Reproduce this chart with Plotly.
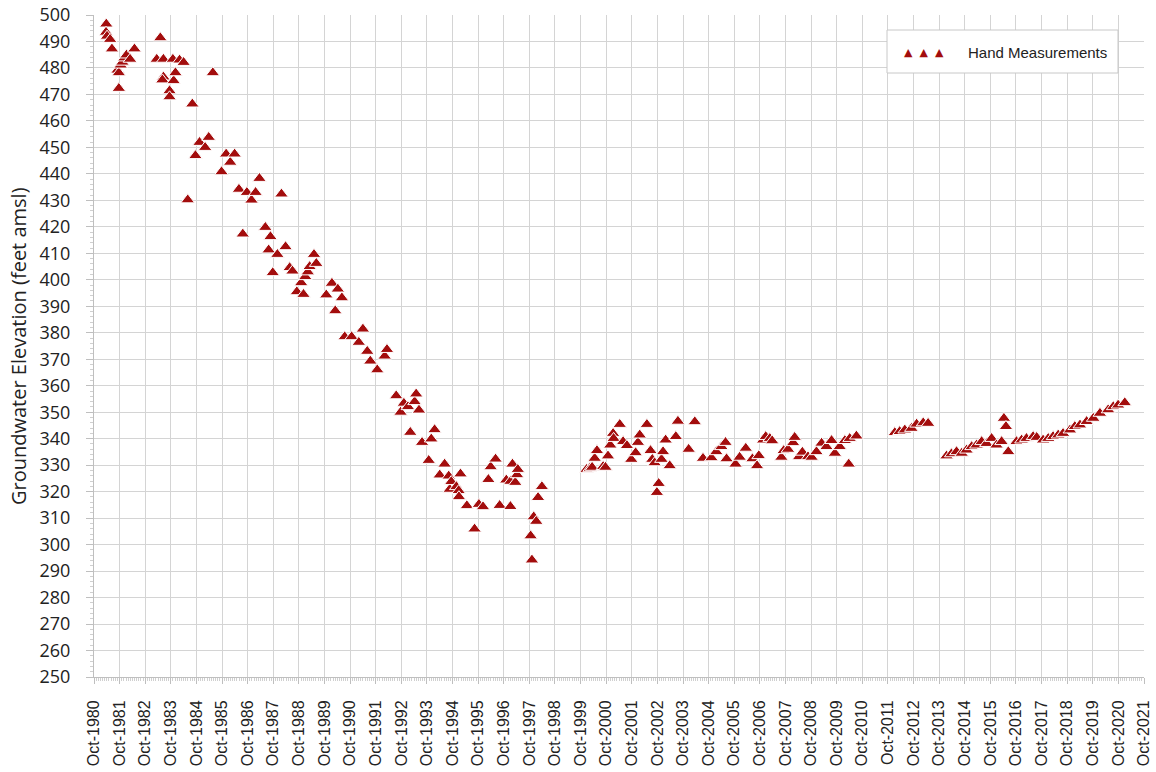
import plotly.graph_objects as go

# Measurement dates (decimal years) and groundwater elevations (feet amsl)
meas_year = [
    1981.23, 1981.22, 1981.26, 1981.38, 1981.45, 1981.67, 1981.72, 1981.72, 1981.79, 1981.86,
    1981.94, 1982.02, 1982.16, 1982.33, 1983.20, 1983.34, 1983.46, 1983.46, 1983.42, 1983.70,
    1983.70, 1983.83, 1983.86, 1983.93, 1984.09, 1984.25, 1984.41, 1984.59, 1984.71, 1984.87,
    1985.09, 1985.23, 1985.39, 1985.73, 1985.91, 1986.07, 1986.24, 1986.41, 1986.56, 1986.72,
    1986.90, 1987.06, 1987.21, 1987.44, 1987.57, 1987.64, 1987.73, 1987.91, 1988.07, 1988.23,
    1988.39, 1988.50, 1988.67, 1988.84, 1988.93, 1989.00, 1989.10, 1989.17, 1989.34, 1989.43,
    1989.82, 1990.04, 1990.17, 1990.27, 1990.43, 1990.54, 1990.81, 1991.09, 1991.25, 1991.42,
    1991.54, 1991.81, 1992.10, 1992.19, 1992.55, 1992.72, 1992.85, 1993.01, 1993.10, 1993.27,
    1993.33, 1993.44, 1993.56, 1993.82, 1993.92, 1994.05, 1994.25, 1994.44, 1994.60, 1994.64,
    1994.70, 1994.90, 1994.99, 1995.00, 1995.06, 1995.31, 1995.61, 1995.78, 1995.94, 1996.15,
    1996.24, 1996.43, 1996.59, 1996.85, 1997.01, 1997.01, 1997.09, 1997.20, 1997.27, 1997.30,
    1997.80, 1997.85, 1997.92, 1998.02, 1998.09, 1998.24,
    1999.98, 2000.11, 2000.20, 2000.30, 2000.39, 2000.63, 2000.72, 2000.82, 2000.91, 2001.02,
    2001.04, 2001.28, 2001.41, 2001.56, 2001.73, 2001.90, 2001.99, 2002.06, 2002.34, 2002.48,
    2002.55, 2002.64, 2002.73, 2002.80, 2002.91, 2002.97, 2003.07, 2003.23, 2003.47, 2003.55,
    2003.97, 2004.21, 2004.53, 2004.86, 2005.05, 2005.25, 2005.41, 2005.45, 2005.80, 2005.96,
    2006.20, 2006.46, 2006.64, 2006.71, 2006.88, 2006.98, 2007.14, 2007.23, 2007.59, 2007.68,
    2007.85, 2008.05, 2008.11, 2008.28, 2008.41, 2008.63, 2008.77, 2008.96, 2009.16, 2009.35,
    2009.55, 2009.68, 2009.87, 2010.07, 2010.22, 2010.26, 2010.52,
    2012.02, 2012.21, 2012.41, 2012.67, 2012.87, 2013.13, 2013.32,
    2014.04, 2014.23, 2014.43, 2014.63, 2014.82, 2015.02, 2015.21, 2015.41, 2015.60, 2015.80,
    2015.99, 2016.19, 2016.28, 2016.36, 2016.45, 2016.77, 2016.97, 2017.16, 2017.42, 2017.56,
    2017.81, 2018.01, 2018.20, 2018.40, 2018.59, 2018.86, 2019.05, 2019.25, 2019.51, 2019.77,
    2020.03, 2020.35, 2020.55, 2020.74, 2021.00,
]
elevation_ft = [
    496.6, 493.5, 492.0, 490.8, 487.2, 479.2, 478.2, 472.3, 481.1, 482.2,
    483.8, 484.9, 483.3, 487.2, 483.3, 491.4, 483.3, 476.6, 475.5, 471.4,
    469.1, 483.3, 475.2, 478.2, 483.0, 482.1, 430.2, 466.4, 446.9, 451.9,
    450.0, 453.8, 478.2, 440.8, 447.5, 444.4, 447.5, 434.2, 417.3, 433.0,
    430.1, 433.0, 438.3, 419.8, 411.3, 416.3, 402.7, 409.6, 432.4, 412.5,
    404.6, 403.3, 395.5, 398.9, 394.5, 401.2, 403.0, 405.0, 409.6, 406.2,
    394.3, 398.7, 388.3, 396.5, 393.2, 378.5, 378.5, 376.4, 381.4, 373.0,
    369.3, 366.0, 371.2, 373.7, 356.2, 350.0, 353.4, 352.1, 342.4, 354.0,
    356.9, 350.8, 338.6, 331.8, 339.9, 343.4, 326.3, 330.4, 325.9, 320.9,
    323.8, 321.9, 320.4, 318.1, 326.7, 314.7, 305.9, 315.2, 314.3, 324.6,
    329.4, 332.3, 314.8, 324.4, 314.4, 323.9, 330.4, 323.5, 326.4, 328.4,
    303.3, 294.2, 310.5, 308.8, 317.8, 321.9,
    328.4, 328.8, 329.2, 332.6, 335.5, 329.5, 329.2, 333.5, 337.6, 342.0,
    340.1, 345.4, 338.9, 337.4, 332.2, 334.7, 338.6, 341.4, 345.4, 335.5,
    332.2, 330.9, 319.7, 323.1, 332.2, 335.1, 339.5, 329.8, 340.8, 346.6,
    336.0, 346.4, 332.6, 332.8, 335.1, 337.0, 338.6, 332.4, 330.4, 333.0,
    336.4, 332.4, 329.8, 333.6, 339.5, 340.8, 340.1, 339.2, 333.0, 335.5,
    336.0, 338.5, 340.5, 333.2, 334.9, 333.2, 333.0, 335.1, 338.3, 337.0,
    339.3, 334.5, 337.0, 339.3, 330.4, 340.1, 341.0,
    342.3, 342.7, 343.3, 343.9, 345.5, 346.0, 345.8,
    333.5, 334.3, 335.1, 334.5, 335.7, 337.0, 337.6, 338.9, 338.2, 340.1,
    337.6, 338.9, 347.7, 344.6, 335.1, 338.9, 339.5, 340.1, 340.8, 340.5,
    339.5, 340.1, 340.8, 341.4, 342.0, 343.3, 344.6, 345.2, 346.5, 347.7,
    349.6, 350.9, 352.1, 352.7, 353.6,
]

# Axis tick labels: water years starting each October
tick_years = list(range(1980, 2022))
tick_labels = [f"Oct-{y}" for y in tick_years]
y_ticks = list(range(250, 501, 10))

MARKER_RED = "#a30d0d"
GRID = "#d4d4d4"
AXIS = "#bfbfbf"

fig = go.Figure()
fig.add_trace(go.Scatter(
    x=meas_year,
    y=elevation_ft,
    mode="markers",
    name="Hand Measurements",
    showlegend=False,
    marker=dict(symbol="triangle-up", size=12, color=MARKER_RED,
                line=dict(color="white", width=1)),
))

fig.update_layout(
    width=1156,
    height=772,
    margin=dict(l=94, r=12, t=15, b=95, autoexpand=False),
    paper_bgcolor="white",
    plot_bgcolor="white",
    font=dict(family="Open Sans", color="#222"),
    xaxis=dict(
        range=[1980.75, 2021.75],
        tickmode="array",
        tickvals=[y + 0.75 for y in tick_years],
        ticktext=tick_labels,
        tickangle=-90,
        tickfont=dict(family="Liberation Sans", size=16, color="#222"),
        ticks="outside", ticklen=6, tickcolor=AXIS,
        ticklabelstandoff=10,
        showgrid=True, gridcolor=GRID, gridwidth=1,
        showline=True, linecolor=AXIS, linewidth=1,
        zeroline=False,
        minor=dict(dtick=1 / 12, tick0=1980.75, ticks="outside", ticklen=3,
                   tickcolor="#d0d0d0", showgrid=False),
    ),
    yaxis=dict(
        range=[250, 500],
        tickmode="array",
        tickvals=y_ticks,
        tickfont=dict(family="Open Sans", size=18, color="#222"),
        ticks="outside", ticklen=7, tickcolor=AXIS,
        ticklabelstandoff=12,
        showgrid=True, gridcolor=GRID, gridwidth=1,
        showline=True, linecolor=AXIS, linewidth=1,
        zeroline=False,
        minor=dict(dtick=2, ticks="outside", ticklen=3,
                   tickcolor="#d0d0d0", showgrid=False),
    ),
)

# Y-axis title
fig.add_annotation(
    text="Groundwater Elevation (feet amsl)",
    xref="paper", yref="paper", x=0, y=0.5,
    xshift=-76, textangle=-90, showarrow=False,
    xanchor="center", yanchor="middle",
    font=dict(family="Open Sans", size=20, color="#222"),
)

# Legend box with sample symbols
fig.add_shape(
    type="rect", xref="paper", yref="paper",
    x0=(887 - 94) / 1050, x1=(1118 - 94) / 1050,
    y0=(677 - 73) / 662, y1=(677 - 30) / 662,
    line=dict(color="#c8c8c8", width=1), fillcolor="white", layer="above",
)
fig.add_annotation(
    text="▲  ▲  ▲",
    xref="paper", yref="paper", x=(902 - 94) / 1050, y=(677 - 52) / 662,
    xanchor="left", yanchor="middle", showarrow=False,
    font=dict(family="DejaVu Sans", size=11, color=MARKER_RED),
)
fig.add_annotation(
    text="Hand Measurements",
    xref="paper", yref="paper", x=(966 - 94) / 1050, y=(677 - 52) / 662,
    xanchor="left", yanchor="middle", showarrow=False,
    font=dict(family="Liberation Sans", size=15, color="#222"),
)

fig.write_html("out.html")
